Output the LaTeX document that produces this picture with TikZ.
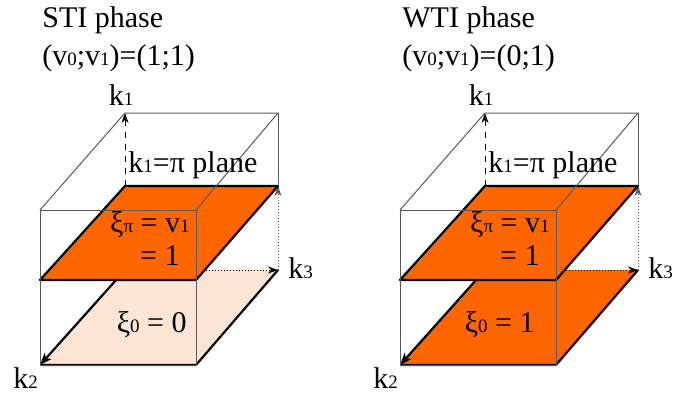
\documentclass[tikz,border=0pt]{standalone}
\usepackage{fontspec}
\setmainfont{Liberation Serif}
\usetikzlibrary{arrows.meta}
\definecolor{planeorange}{RGB}{255,102,0}
\definecolor{planepeach}{RGB}{253,229,214}
\definecolor{edgegray}{RGB}{90,90,90}
\newcommand{\smallidx}[1]{{\fontsize{9.5}{10}\selectfont #1}}

\tikzset{
  cubeedge/.style={draw=edgegray, line width=0.5pt},
  planeedge/.style={draw=black, line width=1.1pt, line join=round},
  axis/.style={line width=0.5pt, -{Stealth[length=5pt,width=3.5pt,inset=1.5pt]}},
  lbl/.style={inner sep=0pt, font=\fontsize{15}{18}\selectfont},
}

\begin{document}
\begin{tikzpicture}[x=0.5pt,y=-0.5pt]
\useasboundingbox (0,0) rectangle (690,396);
\foreach \sx/\tname/\vz/\botcol/\zval/\zx in {0/STI/1/planepeach/0/187,360/WTI/0/planeorange/1/175} {
\begin{scope}[shift={(\sx,0)}]
% corners of the zone cube
\coordinate (ftl\tname) at (40,210);
\coordinate (ftr\tname) at (196,210);
\coordinate (fml\tname) at (40,280);
\coordinate (fmr\tname) at (196,280);
\coordinate (fbl\tname) at (40,365);
\coordinate (fbr\tname) at (196,365);
\coordinate (btl\tname) at (125,113);
\coordinate (btr\tname) at (278,113);
\coordinate (bml\tname) at (125,186);
\coordinate (bmr\tname) at (278,186);
\coordinate (bbl\tname) at (125,270);
\coordinate (bbr\tname) at (278,270);

% k1=0 plane
\fill[\botcol] (fbl\tname) -- (fbr\tname) -- (bbr\tname) -- (bbl\tname) -- cycle;
\draw[axis, dashed] (bbl\tname) -- (btl\tname);
\draw[axis, densely dotted] (bbl\tname) -- (bbr\tname);
\draw[axis, densely dotted, edgegray] (bbr\tname) -- (bmr\tname);
\draw[planeedge] (fbl\tname) -- (fbr\tname) -- (bbr\tname);
\draw[planeedge, -{Stealth[length=6pt,width=4.5pt,inset=1.5pt]}] (bbl\tname) -- (fbl\tname);

% k1=pi plane
\draw[planeedge, fill=planeorange] (fml\tname) -- (fmr\tname) -- (bmr\tname) -- (bml\tname) -- cycle;

% cube
\draw[cubeedge] (ftl\tname) rectangle (fbr\tname);
\draw[cubeedge] (ftl\tname) -- (btl\tname) -- (btr\tname) -- (ftr\tname);
\draw[cubeedge] (btr\tname) -- (bmr\tname);

% labels
\node[lbl, anchor=base west] (title\tname) at (42,27) {\tname{} phase};
\node[lbl, anchor=base west] (index\tname) at (42,65) {(v\smallidx{0};v\smallidx{1})=(\vz;1)};
\node[lbl, anchor=base] (kone\tname) at (121,105) {k\smallidx{1}};
\node[lbl, anchor=base west] (plane\tname) at (128,172) {k\smallidx{1}=π plane};
\node[lbl, anchor=base east] (xipi\tname) at (190,232) {ξ\smallidx{π} = v\smallidx{1}};
\node[lbl, anchor=base east] (xival\tname) at (180,265) {= 1};
\node[lbl, anchor=base east] (xizero\tname) at (\zx,332) {ξ\smallidx{0} = \zval};
\node[lbl, anchor=base west] (kthree\tname) at (288,278) {k\smallidx{3}};
\node[lbl, anchor=base west] (ktwo\tname) at (13,388) {k\smallidx{2}};
\end{scope}
}
\end{tikzpicture}
\end{document}
